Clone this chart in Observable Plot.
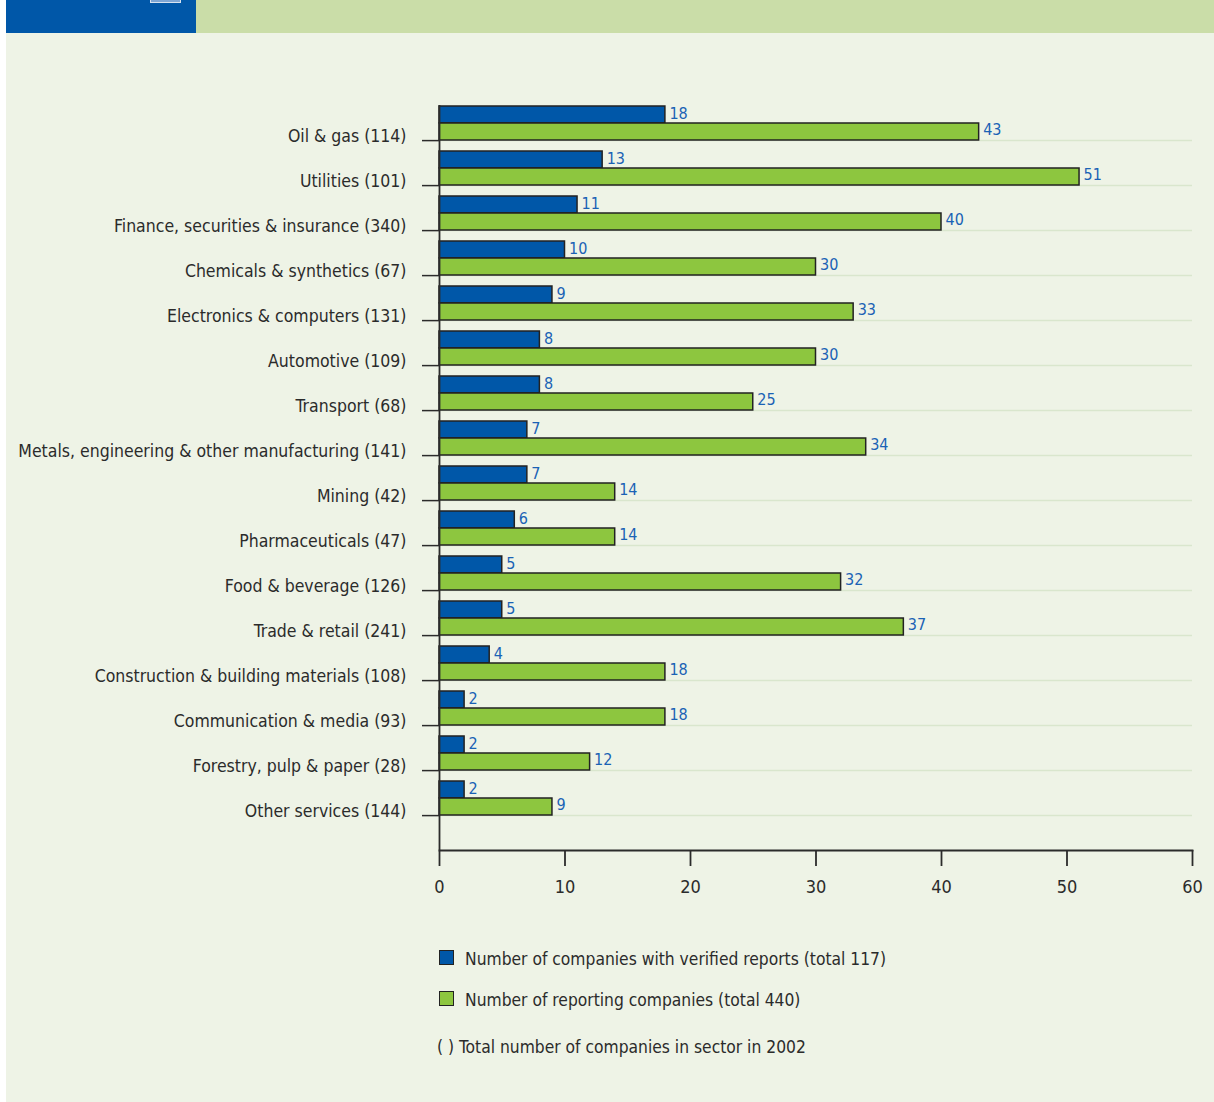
<!DOCTYPE html>
<html>
<head>
<meta charset="utf-8">
<script src="https://cdn.jsdelivr.net/npm/d3@7"></script>
<script src="https://cdn.jsdelivr.net/npm/@observablehq/plot@0.6"></script>
<style>
  html, body { margin: 0; padding: 0; background: #ffffff; }
  body { width: 1214px; height: 1102px; position: relative; overflow: hidden;
         font-family: "Liberation Sans Narrow", "DejaVu Sans Condensed", "Roboto", sans-serif; font-stretch: condensed; color: #2b2b2b; }
  #bg { position: absolute; left: 6px; top: 0; width: 1208px; height: 1102px; background: #eef3e6; }
  #hdrBlue { position: absolute; left: 6px; top: 0; width: 190px; height: 33px; background: #0057a8; }
  #hdrGreen { position: absolute; left: 196px; top: 0; width: 1018px; height: 33px; background: #cadda8; }
  #hdrIcon { position: absolute; left: 150px; top: -2px; width: 29px; height: 3px; border: 1px solid #d8e3f0; background: #7fa6d4; }
  #chart { position: absolute; left: 0; top: 0; }
  .leg { position: absolute; left: 439px; font-size: 17.3px; line-height: 20px; color: #2b2b2b; white-space: nowrap; }
  .sw { position: absolute; left: 0; top: 1px; width: 13px; height: 13px; border: 1.5px solid #222; }
  .leg span.t { position: absolute; left: 26px; top: 0; }
</style>
</head>
<body>
<div id="bg"></div>
<div id="hdrBlue"></div>
<div id="hdrGreen"></div>
<div id="hdrIcon"></div>
<div id="chart"></div>
<div class="leg" style="top:949px"><div class="sw" style="background:#0057a8"></div><span class="t">Number of companies with verified reports (total 117)</span></div>
<div class="leg" style="top:990px"><div class="sw" style="background:#8dc63f"></div><span class="t">Number of reporting companies (total 440)</span></div>
<div class="leg" style="top:1037px; left:437px">( ) Total number of companies in sector in 2002</div>
<script>
const categories = [
  "Oil & gas (114)",
  "Utilities (101)",
  "Finance, securities & insurance (340)",
  "Chemicals & synthetics (67)",
  "Electronics & computers (131)",
  "Automotive (109)",
  "Transport (68)",
  "Metals, engineering & other manufacturing (141)",
  "Mining (42)",
  "Pharmaceuticals (47)",
  "Food & beverage (126)",
  "Trade & retail (241)",
  "Construction & building materials (108)",
  "Communication & media (93)",
  "Forestry, pulp & paper (28)",
  "Other services (144)"
];
const verified = [18, 13, 11, 10, 9, 8, 8, 7, 7, 6, 5, 5, 4, 2, 2, 2];
const reporting = [43, 51, 40, 30, 33, 30, 25, 34, 14, 14, 32, 37, 18, 18, 12, 9];
const xTicks = [0, 10, 20, 30, 40, 50, 60];

const blue = "#0057a8", green = "#8dc63f", labelBlue = "#1a62b5", ink = "#2b2b2b";
const font = '"Liberation Sans Narrow", "DejaVu Sans Condensed", Roboto, sans-serif';

const vData = categories.map((c, i) => ({cat: c, v: verified[i]}));
const rData = categories.map((c, i) => ({cat: c, v: reporting[i]}));

const step = 45.2;
const bandTop = 139 - step;
const bandBottom = 817;

const chart = Plot.plot({
  width: 1214,
  height: 900,
  marginLeft: 439,
  marginRight: 22,
  marginTop: 105,
  marginBottom: 50,
  style: {background: "transparent", fontFamily: font, color: ink, overflow: "visible"},
  x: {domain: [0, 60], axis: null, label: null},
  y: {domain: categories, range: [bandTop, bandBottom], padding: 0, axis: null, label: null},
  marks: [
    // faint row separators
    Plot.tickY(categories, {y: d => d, dy: step / 2, stroke: "#d9e6cd", strokeWidth: 1.5}),
    // bars
    Plot.barX(vData, {x: "v", y: "cat", fill: blue, stroke: "#222", strokeWidth: 1.5, insetTop: 11, insetBottom: step - 28}),
    Plot.barX(rData, {x: "v", y: "cat", fill: green, stroke: "#222", strokeWidth: 1.5, insetTop: 28, insetBottom: 0}),
    // value labels
    Plot.text(vData, {x: "v", y: "cat", text: d => String(d.v), dx: 4, dy: -4, textAnchor: "start", fill: labelBlue, fontSize: 16}),
    Plot.text(rData, {x: "v", y: "cat", text: d => String(d.v), dx: 4, dy: 12, textAnchor: "start", fill: labelBlue, fontSize: 16}),
    // y axis ticks at row bottoms
    Plot.axisY({tickSize: 17, tickFormat: () => "", label: null, dy: step / 2, stroke: ink, strokeWidth: 1.5}),
    // y axis labels
    Plot.axisY({tickSize: 0, tickPadding: 33, label: null, dy: step / 2 - 4.5, fontSize: 17.5, fill: ink}),
    // y baseline
    Plot.ruleX([0], {stroke: ink, strokeWidth: 1.8}),
    // x axis line
    Plot.frame({anchor: "bottom", stroke: ink, strokeWidth: 1.8}),
    Plot.axisX({ticks: xTicks, tickSize: 16, tickPadding: 14, label: null, fontSize: 18, stroke: ink, strokeWidth: 1.8, fill: ink})
  ]
});
document.getElementById("chart").appendChild(chart);
</script>
</body>
</html>
